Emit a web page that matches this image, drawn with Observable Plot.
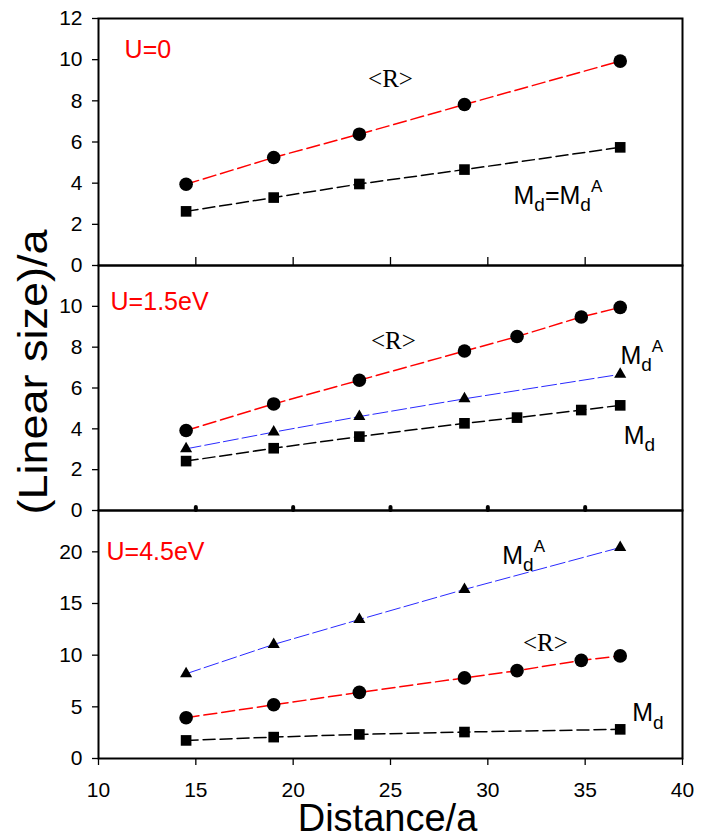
<!DOCTYPE html>
<html><head><meta charset="utf-8">
<script src="https://cdn.jsdelivr.net/npm/d3@7"></script>
<script src="https://cdn.jsdelivr.net/npm/@observablehq/plot@0.6"></script>
<style>
html,body{margin:0;padding:0;background:#fff;}
#chart{position:relative;width:712px;height:835px;overflow:hidden;background:#fff;}
#chart svg{position:absolute;left:0;}
</style></head><body><div id="chart"></div>
<script>
// ---------- data ----------
const xAll  = [14.5, 19, 23.4, 28.8, 31.5, 34.8, 36.8];
const xFive = [14.5, 19, 23.4, 28.8, 36.8];

// U = 0
const u0_R  = [3.95, 5.25, 6.38, 7.82, 9.93];
const u0_M  = [2.63, 3.30, 3.96, 4.66, 5.74];
// U = 1.5 eV
const u15_R  = [3.92, 5.22, 6.38, 7.81, 8.52, 9.48, 9.95];
const u15_MA = [3.02, 3.84, 4.60, 5.47, 6.67];
const u15_M  = [2.42, 3.05, 3.62, 4.27, 4.55, 4.92, 5.15];
// U = 4.5 eV
const u45_MA = [8.20, 11.04, 13.45, 16.36, 20.42];
const u45_R  = [3.95, 5.20, 6.40, 7.80, 8.50, 9.50, 9.93];
const u45_M  = [1.75, 2.07, 2.33, 2.56, 2.82];

const xTicks      = [10, 15, 20, 25, 30, 35, 40];
const xInnerTicks = [15, 20, 25, 30, 35];
const yTicks1 = [0, 2, 4, 6, 8, 10, 12];
const yTicks2 = [0, 2, 4, 6, 8, 10];
const yTicks3 = [0, 5, 10, 15, 20];

const panelTitles = ["U=0", "U=1.5eV", "U=4.5eV"];
const titlePos = [{x: 11.34, y: 10.06}, {x: 10.62, y: 9.80}, {x: 10.41, y: 19.23}];
const rLabelPos = [{x: 25.0, y: 8.65}, {x: 25.15, y: 7.93}, {x: 32.96, y: 10.38}];
const mLabels1 = [{x: 31.32, y: 3.0, t: "Md=MdA"}];
const mLabels2 = [{x: 36.81, y: 7.19, t: "MdA"}, {x: 36.98, y: 3.27, t: "Md"}];
const mLabels3 = [{x: 30.74, y: 18.84, t: "MdA"}, {x: 37.42, y: 3.61, t: "Md"}];

const yTitle = "(Linear size)/a";
const xTitle = "Distance/a";

// ---------- helpers ----------
const rows = (xs, ys) => xs.map((x, i) => ({x, y: ys[i]}));
const RED = {stroke: "#ff0000", strokeWidth: 1.5, strokeDasharray: "13,5"};
const BLK = {stroke: "#000000", strokeWidth: 1.5, strokeDasharray: "12,5"};
const BLU = {stroke: "#2a2aff", strokeWidth: 1, strokeDasharray: "15,4"};
const SANS = "Liberation Sans, Arial, Helvetica, sans-serif";
const SERIF = "Liberation Serif, Times New Roman, serif";
const style = {background: "transparent", overflow: "visible", fontFamily: SANS};

function series(data, lineStyle, symbol, r) {
  return [
    Plot.line(data, {x: "x", y: "y", ...lineStyle}),
    Plot.dot(data, {x: "x", y: "y", symbol, r, fill: "#000", stroke: "none"})
  ];
}
function labelMarks(i, mLabels) {
  return [
    Plot.text([titlePos[i]], {x: "x", y: "y", text: () => panelTitles[i], textAnchor: "start",
      lineAnchor: "bottom", fill: "#ff0000", fontSize: 25, fontFamily: SANS}),
    Plot.text([rLabelPos[i]], {x: "x", y: "y", text: () => "<R>", textAnchor: "middle",
      lineAnchor: "bottom", fill: "#000", fontSize: 25, fontFamily: SERIF}),
    Plot.text(mLabels, {x: "x", y: "y", text: "t", textAnchor: "start",
      lineAnchor: "bottom", fill: "#000", fontSize: 25, fontFamily: SANS})
  ];
}
const RICH = {
  "Md=MdA": [["M", ""], ["d", "sub"], ["=", ""], ["M", ""], ["d", "sub"], ["A", "sup"]],
  "MdA": [["M", ""], ["d", "sub"], ["A", "sup"]],
  "Md": [["M", ""], ["d", "sub"]]
};
function richify(svg) {
  d3.select(svg).selectAll("g[aria-label=text] text").each(function () {
    const spec = RICH[this.textContent];
    if (!spec) return;
    const sel = d3.select(this);
    sel.text(null);
    let cur = 0;
    for (const [s, kind] of spec) {
      const off = kind === "sub" ? 7.5 : kind === "sup" ? -12 : 0;
      const t = sel.append("tspan").attr("dy", off - cur).text(s);
      if (kind === "sub") t.attr("font-size", 19);
      if (kind === "sup") t.attr("font-size", 17);
      cur = off;
    }
  });
}
const yAxis = (ticks) => Plot.axisY({ticks, tickSize: 6, tickPadding: 10, fontSize: 21,
  label: null, strokeWidth: 1.3});

const chart = document.getElementById("chart");
function place(svg, top) { svg.style.top = top + "px"; richify(svg); chart.appendChild(svg); }

// ---------- panel 1 ----------
const H1 = 247, H2 = 245, H3 = 248;
const p1 = Plot.plot({
  width: 712, height: 18 + H1 + 10, marginTop: 18, marginBottom: 10, marginLeft: 98, marginRight: 30,
  x: {domain: [10, 40], axis: null}, y: {domain: [0, 12], axis: null}, style,
  marks: [
    yAxis(yTicks1),
    Plot.tickX(xInnerTicks, {x: d => d, insetTop: H1 - 8, strokeWidth: 1.3}),
    ...series(rows(xFive, u0_R), RED, "circle", 6.8),
    ...series(rows(xFive, u0_M), BLK, "square", 6.0),
    ...labelMarks(0, mLabels1),
    Plot.frame({strokeWidth: 2})
  ]
});
place(p1, 0);

// ---------- panel 2 ----------
const p2 = Plot.plot({
  width: 712, height: 10 + H2 + 10, marginTop: 10, marginBottom: 10, marginLeft: 98, marginRight: 30,
  x: {domain: [10, 40], axis: null}, y: {domain: [0, 12], axis: null}, style,
  marks: [
    yAxis(yTicks2),
    Plot.tickX(xInnerTicks, {x: d => d, insetTop: H2 - 3, strokeWidth: 4, strokeLinecap: "round"}),
    ...series(rows(xAll, u15_R), RED, "circle", 6.8),
    ...series(rows(xFive, u15_MA), BLU, "triangle", 4.5),
    ...series(rows(xAll, u15_M), BLK, "square", 6.0),
    ...labelMarks(1, mLabels2),
    Plot.frame({strokeWidth: 2})
  ]
});
place(p2, 255);

// ---------- panel 3 ----------
const p3 = Plot.plot({
  width: 712, height: 10 + H3 + 77, marginTop: 10, marginBottom: 77, marginLeft: 98, marginRight: 30,
  x: {domain: [10, 40], axis: null}, y: {domain: [0, 24], axis: null}, style,
  marks: [
    yAxis(yTicks3),
    Plot.axisX({ticks: xTicks, tickSize: 7, tickPadding: 17, fontSize: 21, label: null, strokeWidth: 1.3}),
    ...series(rows(xFive, u45_MA), BLU, "triangle", 4.5),
    ...series(rows(xAll, u45_R), RED, "circle", 6.8),
    ...series(rows(xFive, u45_M), BLK, "square", 6.0),
    ...labelMarks(2, mLabels3),
    Plot.text([xTitle], {frameAnchor: "bottom", text: d => d, dy: 72, dx: -3, lineAnchor: "bottom",
      fontSize: 38, fontFamily: SANS, fill: "#000"}),
    Plot.frame({strokeWidth: 2})
  ]
});
place(p3, 500);

// ---------- y title ----------
const ov = d3.create("svg").attr("width", 712).attr("height", 835)
  .style("top", "0px").style("pointer-events", "none");
ov.append("text")
  .attr("transform", "translate(47,372) rotate(-90)")
  .attr("text-anchor", "middle")
  .attr("font-family", SANS).attr("font-size", 40).attr("fill", "#000")
  .attr("textLength", 285).attr("lengthAdjust", "spacingAndGlyphs")
  .text(yTitle);
chart.appendChild(ov.node());
</script></body></html>
